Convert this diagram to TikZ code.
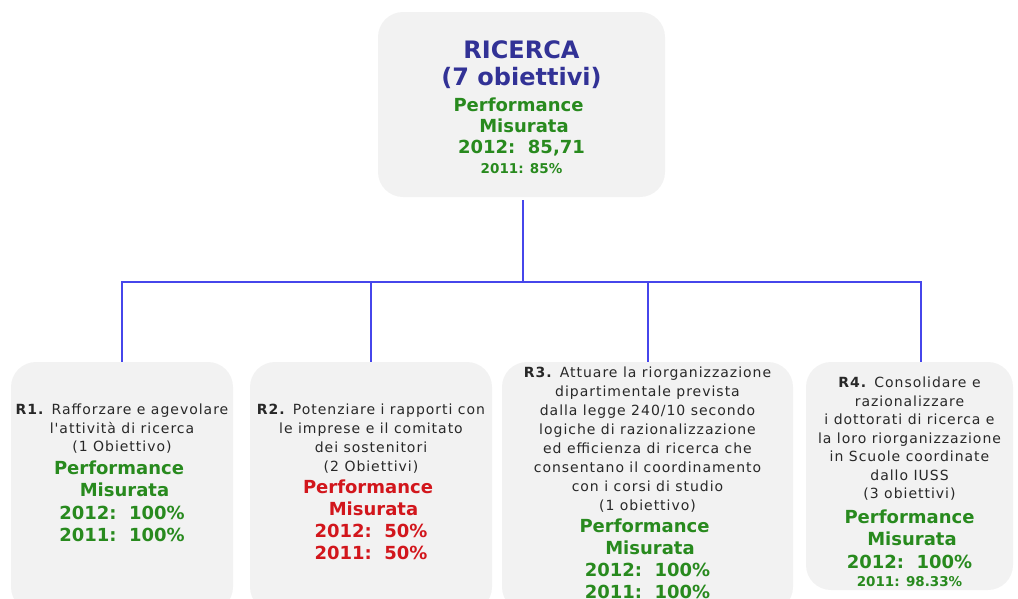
\documentclass[tikz,border=0pt]{standalone}
\usepackage{fontspec}
\setmainfont{DejaVu Sans}
\newfontfamily\descfont[LetterSpace=7]{DejaVu Sans}

\definecolor{boxgray}{RGB}{242,242,242}
\definecolor{titleblue}{RGB}{50,50,150}
\definecolor{perfgreen}{RGB}{40,138,30}
\definecolor{perfred}{RGB}{210,22,28}
\definecolor{wireblue}{RGB}{70,70,235}
\definecolor{desctext}{RGB}{40,40,40}

\newcommand{\titleln}[1]{{\normalfont\bfseries\fontsize{24}{27}\selectfont\color{titleblue}#1}}
\newcommand{\perfln}[2][perfgreen]{{\normalfont\bfseries\fontsize{18}{21}\selectfont\color{#1}#2}}
\newcommand{\smallln}[2][perfgreen]{{\normalfont\bfseries\fontsize{13.5}{16}\selectfont\color{#1}#2}}

\begin{document}
\begin{tikzpicture}[
  x=1pt, y=-1pt,
  every node/.style={inner sep=0pt},
  goalbox/.style={rectangle, rounded corners=25pt, fill=boxgray},
  desc/.style={font={\descfont\fontsize{14}{#1}\selectfont\lineskiplimit=-50pt},
    text=desctext, align=center, anchor=north},
  desc/.default=18.5,
  headtxt/.style={font={\fontsize{18}{21}\selectfont\lineskiplimit=-50pt},
    align=center, anchor=north},
  wire/.style={line width=2pt, wireblue}
]
\useasboundingbox (0,0) rectangle (1018,598);

% ====== TOP BOX ======
\node[goalbox, minimum width=287, minimum height=185] (ricerca) at (521.5,104.5) {};
\node[headtxt] (ricercatxt) at ([yshift=-29pt]ricerca.north) {
    \titleln{RICERCA}\\[6pt]
    \titleln{(7 obiettivi)}\\[5pt]
    \perfln{Performance\hspace*{6pt}}\\
    \perfln{\hspace*{5pt}Misurata}\\
    \perfln{2012:~~85,71}\\[-1pt]
    \smallln{2011: 85\%}
};

% ====== GOAL BOXES ======
\node[goalbox, minimum width=222, minimum height=250] (r1) at (122,487) {};
\node[goalbox, minimum width=242, minimum height=250] (r2) at (371,487) {};
\node[goalbox, minimum width=291, minimum height=250] (r3) at (647.5,487) {};
\node[goalbox, minimum width=207, minimum height=228] (r4) at (909.5,476) {};

\node[desc] (r1txt) at ([yshift=-42pt]r1.north) {
    \textbf{R1.} Rafforzare e agevolare\\
    l'attività di ricerca\\
    (1 Obiettivo)\\[4pt]
    \perfln{Performance\hspace*{6pt}}\\[4pt]
    \perfln{\hspace*{5pt}Misurata}\\[4pt]
    \perfln{2012:~~100\%}\\[4pt]
    \perfln{2011:~~100\%}
};

\node[desc=19] (r2txt) at ([yshift=-42pt]r2.north) {
    \textbf{R2.} Potenziare i rapporti con\\
    le imprese e il comitato\\
    dei sostenitori\\
    (2 Obiettivi)\\[3pt]
    \perfln[perfred]{Performance\hspace*{6pt}}\\[3pt]
    \perfln[perfred]{\hspace*{5pt}Misurata}\\[3pt]
    \perfln[perfred]{2012:~~50\%}\\[3pt]
    \perfln[perfred]{2011:~~50\%}
};

\node[desc=19] (r3txt) at ([yshift=-4.5pt]r3.north) {
    \textbf{R3.} Attuare la riorganizzazione\\
    dipartimentale prevista\\
    dalla legge 240/10 secondo\\
    logiche di razionalizzazione\\
    ed efficienza di ricerca che\\
    consentano il coordinamento\\
    con i corsi di studio\\
    (1 obiettivo)\\[3pt]
    \perfln{Performance\hspace*{6pt}}\\[3pt]
    \perfln{\hspace*{5pt}Misurata}\\[3pt]
    \perfln{2012:~~100\%}\\[3pt]
    \perfln{2011:~~100\%}
};

\node[desc] (r4txt) at ([yshift=-15pt]r4.north) {
    \textbf{R4.} Consolidare e\\
    razionalizzare\\
    i dottorati di ricerca e\\
    la loro riorganizzazione\\
    in Scuole coordinate\\
    dallo IUSS\\
    (3 obiettivi)\\[6pt]
    \perfln{Performance}\\[4pt]
    \perfln{\hspace*{5pt}Misurata}\\[4pt]
    \perfln{2012:~~100\%}\\
    \smallln{2011: 98.33\%}
};

% ====== CONNECTORS ======
\coordinate (busmid) at (523,282);
\draw[wire, shorten <=3pt] (ricerca.south -| busmid) -- (busmid);
\foreach \goal in {r1,r2,r3}{
  \draw[wire] (busmid) -| (\goal);
}
\draw[wire] (busmid) -| ([xshift=11pt]r4.north);

\end{tikzpicture}
\end{document}
